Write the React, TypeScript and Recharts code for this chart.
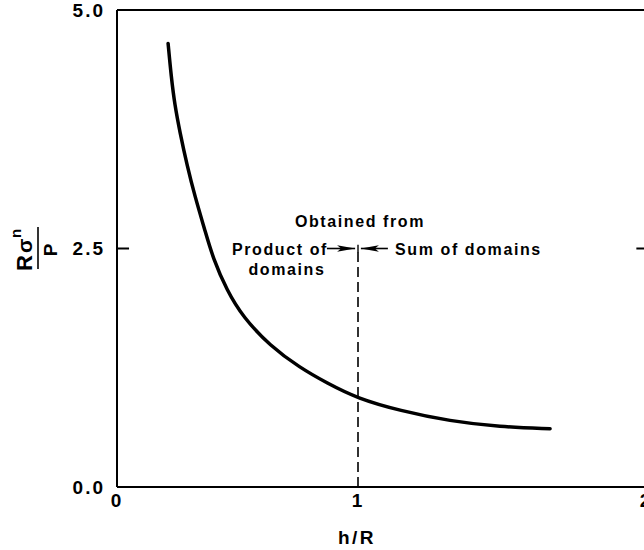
import React from "react";
import {
  LineChart,
  Line,
  XAxis,
  YAxis,
  ReferenceLine,
  ReferenceDot,
  Customized,
} from "recharts";

// Curve: normalized stress R*sigma_n/P versus h/R
const H_OVER_R = [0.212, 0.225, 0.24, 0.261, 0.29, 0.324, 0.365, 0.398, 0.456, 0.523, 0.635, 0.759, 0.871, 0.996, 1.174, 1.382, 1.589, 1.797];
const STRESS = [4.65, 4.3, 4.0, 3.72, 3.38, 3.04, 2.69, 2.4, 2.06, 1.78, 1.48, 1.25, 1.09, 0.93, 0.8, 0.69, 0.63, 0.61];

const X_TICKS = [0, 1, 2.195];
const X_TICK_LABELS = ["0", "1", "2"];
const Y_TICKS = [0, 2.5, 5];
const Y_TICK_LABELS = ["0.0", "2.5", "5.0"];

const X_MAX = 2.195;
const Y_MAX = 5;
const DIVIDER_X = 1; // boundary between the two methods
const DIVIDER_TOP = 2.5;
const ARROW_LEFT = [0.871, 0.988];
const ARROW_RIGHT = [1.124, 1.012];

const data = H_OVER_R.map((x, i) => ({ x, y: STRESS[i] }));

const FONT = "'Liberation Sans', Arial, Helvetica, sans-serif";
const textStyle = { fontFamily: FONT, fontWeight: 700, fill: "#000" } as const;

const RightHead = (props: any) => {
  const { cx, cy } = props;
  return <polygon points={`${cx},${cy} ${cx - 18},${cy - 3.2} ${cx - 14},${cy} ${cx - 18},${cy + 3.2}`} fill="#000" />;
};
const LeftHead = (props: any) => {
  const { cx, cy } = props;
  return <polygon points={`${cx},${cy} ${cx + 18},${cy - 3.2} ${cx + 14},${cy} ${cx + 18},${cy + 3.2}`} fill="#000" />;
};

const Annotations = () => (
  <g>
    <text x={360} y={227} textAnchor="middle" fontSize={16} letterSpacing={1.6} style={textStyle}>
      Obtained from
    </text>
    <text x={328} y={255} textAnchor="end" fontSize={16} letterSpacing={1.6} style={textStyle}>
      Product of
    </text>
    <text x={287} y={275} textAnchor="middle" fontSize={16} letterSpacing={1.6} style={textStyle}>
      domains
    </text>
    <text x={395} y={255} textAnchor="start" fontSize={16} letterSpacing={1.6} style={textStyle}>
      Sum of domains
    </text>
    <text x={357} y={544} textAnchor="middle" fontSize={19} letterSpacing={2.5} style={textStyle}>
      h/R
    </text>
    <g transform="translate(38,248) rotate(-90)">
      <line x1={-21} x2={21} y1={0} y2={0} stroke="#000" strokeWidth={1.6} />
      <text x={-23} y={-6} fontSize={22} style={textStyle}>R</text>
      <text x={-5} y={-6} fontSize={21} style={textStyle}>σ</text>
      <text x={10} y={-17} fontSize={15} style={textStyle}>n</text>
      <text x={-2} y={19} textAnchor="middle" fontSize={19} style={textStyle}>P</text>
    </g>
  </g>
);

export default function App() {
  return (
    <div style={{ position: "absolute", left: 0, top: 0, width: 644, height: 550, overflow: "hidden", background: "#fff" }}>
      <LineChart width={660} height={550} data={data} margin={{ top: 10, right: 14, bottom: 8, left: 47 }}>
        <XAxis
          type="number"
          dataKey="x"
          domain={[0, X_MAX]}
          ticks={X_TICKS}
          interval={0}
          allowDataOverflow
          tickFormatter={(v: number, i: number) => X_TICK_LABELS[i]}
          tickLine={false}
          tickSize={0}
          tickMargin={7}
          height={55}
          axisLine={{ stroke: "#000", strokeWidth: 2 }}
          tick={{ fontSize: 19, fontWeight: 700, fill: "#000", fontFamily: FONT, letterSpacing: 2 }}
        />
        <YAxis
          type="number"
          dataKey="y"
          domain={[0, Y_MAX]}
          ticks={Y_TICKS}
          interval={0}
          allowDataOverflow
          tickFormatter={(v: number, i: number) => Y_TICK_LABELS[i]}
          tickLine={false}
          tickSize={0}
          tickMargin={12}
          width={70}
          axisLine={{ stroke: "#000", strokeWidth: 2 }}
          tick={{ fontSize: 19, fontWeight: 700, fill: "#000", fontFamily: FONT, letterSpacing: 2 }}
        />
        <ReferenceLine y={Y_MAX} stroke="#000" strokeWidth={2} ifOverflow="visible" />
        <ReferenceLine x={X_MAX} stroke="#000" strokeWidth={2} ifOverflow="visible" />
        <ReferenceLine segment={[{ x: 0, y: 2.5 }, { x: 0.05, y: 2.5 }]} stroke="#000" strokeWidth={2} />
        <ReferenceLine segment={[{ x: X_MAX - 0.04, y: 2.5 }, { x: X_MAX, y: 2.5 }]} stroke="#000" strokeWidth={2} ifOverflow="visible" />
        <ReferenceLine
          segment={[{ x: DIVIDER_X, y: 0 }, { x: DIVIDER_X, y: DIVIDER_TOP - 0.03 }]}
          stroke="#000"
          strokeWidth={1.6}
          strokeDasharray="10 5"
        />
        <ReferenceLine segment={[{ x: DIVIDER_X, y: DIVIDER_TOP - 0.04 }, { x: DIVIDER_X, y: DIVIDER_TOP + 0.04 }]} stroke="#000" strokeWidth={1.4} />
        <ReferenceLine segment={[{ x: ARROW_LEFT[0], y: DIVIDER_TOP }, { x: ARROW_LEFT[1], y: DIVIDER_TOP }]} stroke="#000" strokeWidth={1.6} />
        <ReferenceLine segment={[{ x: ARROW_RIGHT[0], y: DIVIDER_TOP }, { x: ARROW_RIGHT[1], y: DIVIDER_TOP }]} stroke="#000" strokeWidth={1.6} />
        <ReferenceDot x={ARROW_LEFT[1]} y={DIVIDER_TOP} shape={RightHead} />
        <ReferenceDot x={ARROW_RIGHT[1]} y={DIVIDER_TOP} shape={LeftHead} />
        <Line
          type="basis"
          dataKey="y"
          stroke="#000"
          strokeWidth={3.5}
          strokeLinecap="round"
          dot={false}
          activeDot={false}
          isAnimationActive={false}
        />
        <Customized component={<Annotations />} />
      </LineChart>
    </div>
  );
}
